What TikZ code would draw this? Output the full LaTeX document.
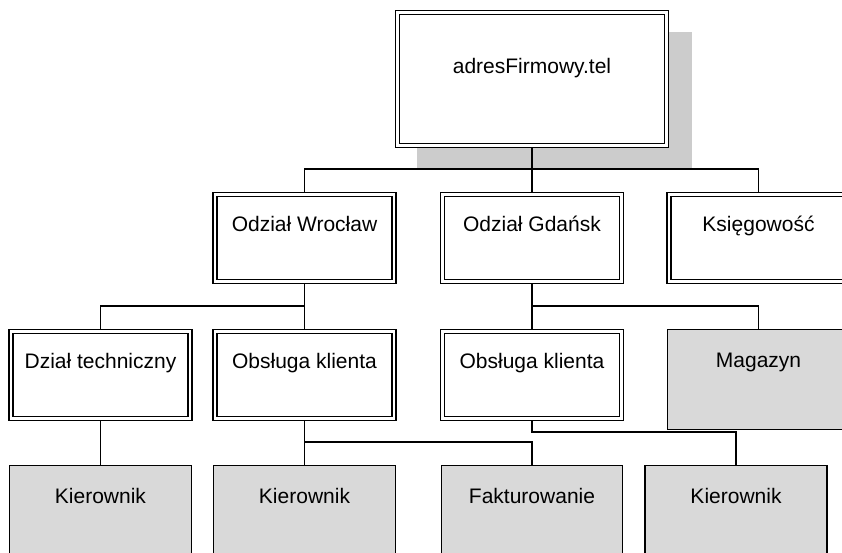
\documentclass[tikz,border=0pt]{standalone}
\usepackage{fontspec}
\setmainfont{Liberation Sans}
\usetikzlibrary{backgrounds}
\newcommand\labfont{\fontsize{21}{25}\selectfont}
\definecolor{boxgray}{RGB}{217,217,217}
\definecolor{shadowgray}{RGB}{204,204,204}
\tikzset{
  dbox/.style={draw, line width=1.3pt, double, double distance=2.7pt, fill=white,
    minimum width=179pt, inner sep=0pt, text height=37pt, text depth=50pt,
    font=\labfont, anchor=north},
  gbox/.style={draw, line width=1.3pt, fill=boxgray,
    minimum width=182pt, inner sep=0pt, text height=38.5pt, text depth=61.5pt,
    font=\labfont, anchor=north},
  conn/.style={draw, line width=1.3pt}
}
\begin{document}
\begin{tikzpicture}[x=1pt,y=-1pt]
\useasboundingbox (0,0) rectangle (842,553);
\clip (0,0) rectangle (842,553);
% level 1
\node[dbox, minimum width=269pt, text height=61pt, text depth=72pt] (top) at (532,12) {adresFirmowy.tel};
% level 2
\node[dbox] (wroc) at (304.5,194) {Odział Wrocław};
\node[dbox] (gdan) at (532,194) {Odział Gdańsk};
\node[dbox] (ksieg) at (758.5,194) {Księgowość};
% level 3
\node[dbox] (tech) at (100.5,331) {Dział techniczny};
\node[dbox] (obsw) at (304.5,331) {Obsługa klienta};
\node[dbox] (obsg) at (532,331) {Obsługa klienta};
\node[gbox] (mag) at (758.5,328.5) {Magazyn};
% level 4
\node[gbox] (k1) at (100.5,464.5) {Kierownik};
\node[gbox] (k2) at (304.5,464.5) {Kierownik};
\node[gbox, minimum width=181pt] (fakt) at (532,464.5) {Fakturowanie};
\node[gbox] (k3) at (736,464.5) {Kierownik};
\begin{pgfonlayer}{background}
  \fill[shadowgray] (417,32) rectangle (692,168);
  \coordinate (j1) at (532,169);
  \coordinate (j2) at (304.5,306);
  \coordinate (j3) at (532,306);
  \coordinate (j4) at (304.5,442);
  \coordinate (j5) at (532,432);
  \path[conn] (top.south) -- (j1);
  \path[conn] (wroc.north) |- (j1) -| (ksieg.north);
  \path[conn] (gdan.north) -- (j1);
  \path[conn] (wroc.south) -- (j2);
  \path[conn] (tech.north) |- (j2);
  \path[conn] (obsw.north) -- (j2);
  \path[conn] (gdan.south) -- (j3) -| (mag.north);
  \path[conn] (obsg.north) -- (j3);
  \path[conn] (tech.south) -- (k1.north);
  \path[conn] (obsw.south) -- (j4) -| (fakt.north);
  \path[conn] (k2.north) -- (j4);
  \path[conn] (obsg.south) -- (j5) -| (k3.north);
\end{pgfonlayer}
\end{tikzpicture}
\end{document}
